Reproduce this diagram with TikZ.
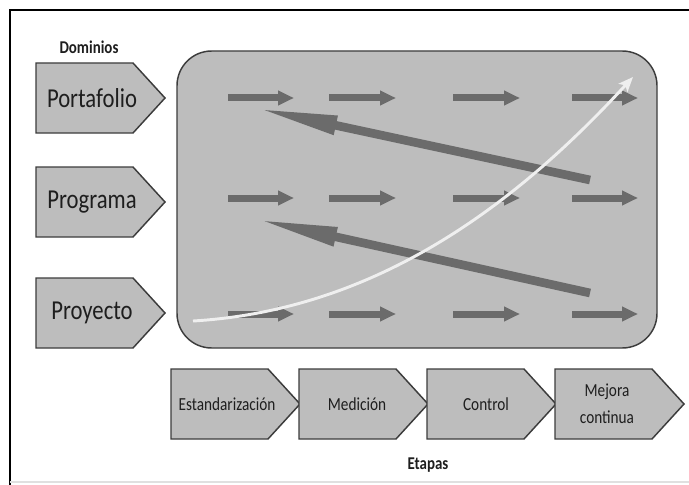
\documentclass[tikz,border=0pt]{standalone}
\usepackage{fontspec}
\setmainfont{Carlito}
\newfontfamily\condfont[FakeStretch=0.83]{Carlito}
\usetikzlibrary{arrows.meta}
\definecolor{boxfill}{HTML}{BDBDBD}
\definecolor{boxline}{HTML}{3C3C3C}
\definecolor{arrowgray}{HTML}{6B6B6B}
\definecolor{curvewhite}{HTML}{EFEFEF}
\definecolor{txt}{HTML}{1E1E1E}
\tikzset{
  pent/.style={fill=boxfill, draw=boxline, line width=1.1pt, line join=miter},
  domtext/.style={font=\condfont\fontsize{20.5}{24}\selectfont, text=txt, inner sep=0pt},
  stagetext/.style={font=\condfont\fontsize{13.8}{20}\selectfont, text=txt, inner sep=0pt, align=center},
  headtext/.style={font=\condfont\bfseries\fontsize{13.5}{16}\selectfont, text=txt, inner sep=0pt},
  smallarrow/.style={draw=arrowgray, line width=5.25pt, -{Triangle[length=12pt, width=10.5pt]}},
  bigarrow/.style={draw=arrowgray, line width=6.5pt, -{Triangle[length=62pt, width=13pt]}},
  growth/.style={draw=curvewhite, line width=2.2pt, -{Stealth[length=11pt, width=9pt, inset=2.5pt]}},
}
\begin{document}
\begin{tikzpicture}[x=0.75pt, y=-0.75pt]
\useasboundingbox (0,0) rectangle (689,485);
% frame
\draw[black, line width=1.6pt] (10,485) -- (10,10) -- (689,10);
\draw[black!12, line width=0.8pt] (10,482) -- (689,482);

% main rounded panel
\draw[fill=boxfill, draw=boxline, line width=1.1pt, rounded corners=26pt] (177,51) rectangle (657,348);

% domain pentagons
\draw[pent] (36,63) -- (133,63) -- (165,98) -- (133,133) -- (36,133) -- cycle;
\draw[pent] (36,167) -- (133,167) -- (165,202) -- (133,237) -- (36,237) -- cycle;
\draw[pent] (36,278) -- (133,278) -- (165,313) -- (133,348) -- (36,348) -- cycle;
\node[domtext] (portafolio) at (92,98) {Portafolio};
\node[domtext] (programa) at (92,202) {Programa};
\node[domtext] (proyecto) at (92,313) {Proyecto};
\node[headtext] (dominios) at (89,47) {Dominios};

% stage pentagons
\draw[pent] (171,369) -- (268,369) -- (300,404) -- (268,439) -- (171,439) -- cycle;
\draw[pent] (299,369) -- (396,369) -- (428,404) -- (396,439) -- (299,439) -- cycle;
\draw[pent] (427,369) -- (524,369) -- (556,404) -- (524,439) -- (427,439) -- cycle;
\draw[pent] (555,369) -- (652,369) -- (684,404) -- (652,439) -- (555,439) -- cycle;
\node[stagetext] (estandarizacion) at (227,404) {Estandarización};
\node[stagetext] (medicion) at (357,404) {Medición};
\node[stagetext] (control) at (486,404) {Control};
\node[stagetext] (mejora) at (607,404) {Mejora\\continua};
\node[headtext] (etapas) at (428,465) {Etapas};

% small row arrows
\foreach \r/\y in {a/98, b/198, c/314}{
  \foreach \c/\xa/\xb in {1/228/294, 2/329/396, 3/453/520, 4/572/638}{
    \coordinate (s\r\c) at (\xa,\y);
    \coordinate (e\r\c) at (\xb,\y);
    \draw[smallarrow] (s\r\c) -- (e\r\c);
  }
}

% big return arrows
\coordinate (t1) at (590,180);
\coordinate (h1) at (255,108);
\coordinate (t2) at (590,293);
\coordinate (h2) at (255,219);
\draw[bigarrow] (t1) -- (h1);
\draw[bigarrow] (t2) -- (h2);

% growth curve
\coordinate (g0) at (193,321);
\coordinate (g1) at (633,77);
\draw[growth] (g0) .. controls (380,310) and (520,200) .. (g1);
\end{tikzpicture}
\end{document}
